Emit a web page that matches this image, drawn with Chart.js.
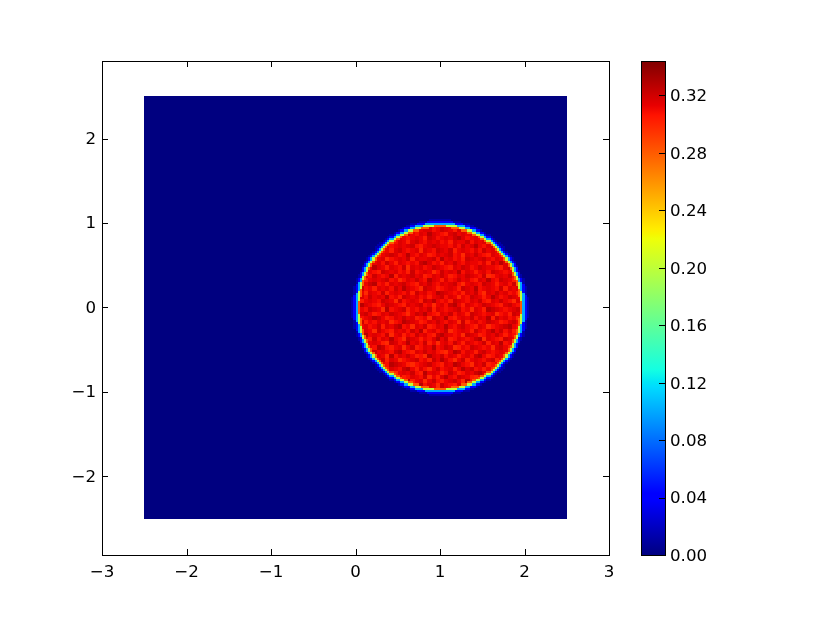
<!DOCTYPE html>
<html>
<head>
<meta charset="utf-8">
<title>Heatmap</title>
<script src="https://cdn.jsdelivr.net/npm/chart.js@4"></script>
<style>
  html, body { margin: 0; padding: 0; background: #fff; }
  #wrap { position: relative; width: 817px; height: 617px; overflow: hidden; }
  canvas { position: absolute; top: 0; }
</style>
</head>
<body>
<div id="wrap">
  <canvas id="heatmap" width="817" height="617" style="left:0"></canvas>
  <canvas id="colorbar" width="197" height="617" style="left:620px"></canvas>
</div>
<script>
const xTicks = [-3, -2, -1, 0, 1, 2, 3];
const yTicks = [-2, -1, 0, 1, 2];
const cbarTicks = [0, 0.04, 0.08, 0.12, 0.16, 0.2, 0.24, 0.28, 0.32];
const xRange = [-3, 3];
const yRange = [-2.932, 2.92];
const cbarMax = 0.344;

// image grid
const gridSize = 200;
const imageMin = -2.5;
const cellStep = 0.025;
const discCol = 140;
const discRow = 100;

// edge of the disc: half width in cells of each row, counted from the middle row outwards
const edge012 = [42,42,42,42,42,41,41,41,41,41,40,40,40,40,39,39,38,38,37,37,36,36,35,35,34,33,32,31,31,30,29,27,26,25,24,22,20,18,16,14,10,5];
const edge040 = [41,41,41,41,41,41,40,40,40,40,40,39,39,39,38,38,38,37,37,36,36,35,34,34,33,32,31,30,29,28,27,26,25,24,22,21,19,17,14,11,6,0];
const edge010 = [40,40,40,40,40,40,40,39,39,39,39,39,38,38,37,37,37,36,36,35,35,34,33,33,32,31,30,29,28,27,26,25,24,22,21,19,17,14,12,7,0,0];
const edge020 = [39,39,39,39,39,39,39,39,38,38,38,38,37,37,37,36,36,35,35,34,34,33,32,32,31,30,29,28,27,26,25,24,22,21,19,17,15,12,8,0,0,0];
const edge028 = [39,39,39,38,38,38,38,38,38,37,37,37,37,36,36,35,35,34,34,33,33,32,31,31,30,29,28,27,26,25,24,22,21,19,17,15,13,9,3,0,0,0];
const edgeInner = [38,38,38,38,38,37,37,37,37,37,36,36,36,35,35,34,34,34,33,32,32,31,30,30,29,28,27,26,25,24,22,21,19,18,15,13,10,5,0,0,0,0];
const edgeWidths = [edge012, edge040, edge010, edge020, edge028, edgeInner];
const edgeValues = [0.012, 0.04, 0.1, 0.2, 0.28];
const backgroundValue = 0;

// values of the letters used in diskBlocks
const noiseLevels = { a: 0.298, b: 0.303, c: 0.308, d: 0.312, e: 0.316, f: 0.321, g: 0.327 };
const defaultNoise = "d";

// interior in blocks of 2x2 cells, estimated by eye (texture only, not cell exact)
const blockCells = 2;
const diskBlocks = [
  "dedfcedbeddcgedeecdfedbeedcdfecdedeefd",
  "ecdedfbedecfdcedgedcbefdedecfdedcbedfe",
  "fdebdcedfedcdedbfecdedfgecdedbefdcedcd",
  "dcefeddgcedbefdcedecdbeddfcedeadecfede",
  "eadcdfecdedefcbdefeddcecfdegdcefbddecf",
  "dedgecdbefdcdeaedcfedfbdedcecfdedegdcb",
  "cfedbdefecdgdcedbcedefcdaedfdcbedcfede",
  "edcfdeacdedfbeddefcgdecdbfedefdcedbdcf",
  "befdecfdbedcdcfgecdbedfdceddcebfdgedec",
  "dcdgedbedcfaedecdfedcbedfecdfeddcbefdd",
  "fedcbfedecdbfcdedacfdedgcedbdecfedcdge",
  "decfdcdgbedefdebcedfdbcedfedcfabdedfcd",
  "cbdedefcdacedfdcgedbecdfdecbedgdcfedbe",
  "edfgcdbedefdcbedfdcedefcadedcfedbdecfd",
  "fcdbedecfdgedcafedbcdedbfedgcdedcfbede",
  "daedcfbdedcebfdecdgfedcdbedfcaedfdecdb",
  "ecfdedgcdbfedecdbdefcedadcfedbdgecdfed",
  "bdedcfedafcdedbfegdcdbfedcedfcbedfdcae",
  "gedcbdfedcbedefcdadecfgdbedcdfedcbefdc",
  "dcfedagcdefbdcedfbedcdefcdaedbgfedcdef",
  "efdbcedfedcadfegdcbedfcedbfedcdeacdbfe",
  "cdegfdbcedfdebcdafedgcbdedfcedgbfdecda",
  "fbdcedeacdgfedbcedfdcedafbdecdfedbcefd",
  "decdfbedfgcdaedfbcedgdcefdcbedacdefgdc",
  "bedafdcbedecfdgbdecdfacdedbfdcegdfcebd",
  "cgdedcfadebdcfdecbfgedcdafedbcedfdbdce",
  "edbfcedgdcafedbdcegdfbcedcdfgaedcbfedd",
  "fcdedbafecdgdecfbdadecfdbedcdfbedgcdef",
  "dedcgfcbdeadfbcedgcdfeabdcfedcdaefdbce",
  "baefdedcfgdcbedfdecbadgfcedbefdcdedgcd",
  "dcfbedagcedfdbcagedfcedbdecfgdbcedafdf",
  "egdcdfbedacdefcdbfdgecadfbdedcefbdcedc",
  "cdbefdcgfedbacdefdcbedgfdcaedfbcdegdfb",
  "fedacdbedcfgdbecadfcdebdgefcdbdafcdedc",
  "dcgefbdcadedfcbgdedacfdbcedfgecdbefadc",
  "bfdcdegafdbcedcfadbegdcfedbacdefcgdbed",
  "edbfacdfedcgbdeadfcbdefdagcbedfdcebfdg",
  "gcdedbfcadefdbgcedafdcbeedfcgbadedcfde"
];

// jet colormap breakpoints: position, r, g, b
const jetStops = [
  [0, 0, 0, 128], [0.11, 0, 0, 255], [0.125, 0, 0, 255], [0.34, 0, 219, 255],
  [0.35, 0, 230, 247], [0.375, 20, 255, 226], [0.64, 239, 255, 8], [0.65, 247, 246, 0],
  [0.66, 255, 236, 0], [0.89, 255, 19, 0], [0.91, 232, 0, 0], [1, 128, 0, 0]
];

function jetColor(value) {
  const t = Math.min(value / cbarMax, 1);
  let i = 0;
  while (i < jetStops.length - 2 && t > jetStops[i + 1][0]) i++;
  const a = jetStops[i], b = jetStops[i + 1];
  const f = (t - a[0]) / (b[0] - a[0]);
  const c = [1, 2, 3].map(k => Math.round(a[k] + (b[k] - a[k]) * f));
  return `rgb(${c[0]},${c[1]},${c[2]})`;
}

function cellValue(row, col) {
  const j = row < discRow ? discRow - 1 - row : row - discRow;
  const i = col < discCol ? discCol - 1 - col : col - discCol;
  if (j > 41) return backgroundValue;
  if (i >= edgeWidths[0][j]) return backgroundValue;
  for (let m = edgeValues.length; m > 0; m--) {
    if (i < edgeWidths[m][j]) {
      if (m < edgeValues.length) return edgeValues[m];
      const text = diskBlocks[Math.floor((row - (discRow - 38)) / blockCells)] || "";
      const ch = text[Math.floor((col - (discCol - 38)) / blockCells)] || defaultNoise;
      return noiseLevels[ch];
    }
  }
  return edgeValues[0];
}

// group the cells by value so each value is one scatter dataset
const cellsByValue = new Map();
for (let row = 0; row < gridSize; row++) {
  for (let col = 0; col < gridSize; col++) {
    const v = cellValue(row, col);
    if (!cellsByValue.has(v)) cellsByValue.set(v, []);
    cellsByValue.get(v).push({
      x: imageMin + (col + 0.5) * cellStep,
      y: -imageMin - (row + 0.5) * cellStep
    });
  }
}

const cellDatasets = [...cellsByValue.keys()].map(v => ({
  data: cellsByValue.get(v),
  pointRadius: 0,
  backgroundColor: jetColor(v),
  showLine: false
}));

// paints each cell snapped to whole pixels, otherwise antialiased seams show between cells
const cellPainter = {
  id: "cellPainter",
  beforeDatasetsDraw(chart) {
    const { ctx, scales: { x: sx, y: sy } } = chart;
    ctx.save();
    chart.data.datasets.forEach(ds => {
      ctx.fillStyle = ds.backgroundColor;
      ds.data.forEach(p => {
        const l = Math.round(sx.getPixelForValue(p.x - cellStep / 2));
        const r = Math.round(sx.getPixelForValue(p.x + cellStep / 2));
        const t = Math.round(sy.getPixelForValue(p.y + cellStep / 2));
        const b = Math.round(sy.getPixelForValue(p.y - cellStep / 2));
        ctx.fillRect(l, t, r - l, b - t);
      });
    });
    ctx.restore();
  }
};

const tickFont = { family: "'DejaVu Sans'", size: 16.67 };
const tickLen = 6;

function fixTicks(values) {
  return scale => { scale.ticks = values.map(v => ({ value: v })); };
}

const formatMinus = v => String(v).replace("-", "\u2212");

// frame and inward ticks on all four sides, matplotlib style
const frameTicks = {
  id: "frameTicks",
  afterDatasetsDraw(chart) {
    const { ctx, chartArea: a, scales } = chart;
    ctx.save();
    ctx.strokeStyle = "#000";
    ctx.lineWidth = 1;
    ctx.beginPath();
    xTicks.forEach(v => {
      const px = Math.round(scales.x.getPixelForValue(v)) + 0.5;
      ctx.moveTo(px, a.top); ctx.lineTo(px, a.top + tickLen);
      ctx.moveTo(px, a.bottom); ctx.lineTo(px, a.bottom - tickLen);
    });
    yTicks.forEach(v => {
      const py = Math.round(scales.y.getPixelForValue(v)) + 0.5;
      ctx.moveTo(a.left, py); ctx.lineTo(a.left + tickLen, py);
      ctx.moveTo(a.right, py); ctx.lineTo(a.right - tickLen, py);
    });
    ctx.stroke();
    ctx.strokeRect(a.left + 0.5, a.top + 0.5, a.right - a.left, a.bottom - a.top);
    ctx.restore();
  }
};

new Chart(document.getElementById("heatmap"), {
  type: "scatter",
  data: { datasets: cellDatasets },
  options: {
    responsive: false,
    animation: false,
    events: [],
    layout: { padding: { top: 61, right: 208, left: 0, bottom: 0 } },
    plugins: { legend: { display: false }, tooltip: { enabled: false } },
    scales: {
      x: {
        type: "linear",
        min: xRange[0],
        max: xRange[1],
        grid: { display: false, drawTicks: false },
        border: { display: false },
        afterBuildTicks: fixTicks(xTicks),
        afterFit: s => { s.height = 62; },
        ticks: { color: "#000", font: tickFont, padding: 8, maxRotation: 0, autoSkip: false, callback: formatMinus }
      },
      y: {
        type: "linear",
        min: yRange[0],
        max: yRange[1],
        grid: { display: false, drawTicks: false },
        border: { display: false },
        afterBuildTicks: fixTicks(yTicks),
        afterFit: s => { s.width = 102; },
        ticks: { color: "#000", font: tickFont, padding: 6, labelOffset: 1, autoSkip: false, callback: formatMinus }
      }
    }
  },
  plugins: [cellPainter, frameTicks]
});

const cbarFrame = {
  id: "cbarFrame",
  afterDatasetsDraw(chart) {
    const { ctx, chartArea: a, scales } = chart;
    ctx.save();
    ctx.strokeStyle = "#000";
    ctx.lineWidth = 1;
    ctx.beginPath();
    cbarTicks.forEach(v => {
      const py = Math.round(scales.y.getPixelForValue(v)) + 0.5;
      ctx.moveTo(a.right, py); ctx.lineTo(a.right - tickLen, py);
    });
    ctx.stroke();
    ctx.strokeRect(a.left + 0.5, a.top + 0.5, a.right - a.left, a.bottom - a.top);
    ctx.restore();
  }
};

function cbarGradient(context) {
  const area = context.chart.chartArea;
  if (!area) return "#000";
  const g = context.chart.ctx.createLinearGradient(0, area.bottom, 0, area.top);
  jetStops.forEach(s => g.addColorStop(s[0], `rgb(${s[1]},${s[2]},${s[3]})`));
  return g;
}

new Chart(document.getElementById("colorbar"), {
  type: "bar",
  data: {
    labels: [""],
    datasets: [{
      data: [[0, cbarMax]],
      backgroundColor: cbarGradient,
      barPercentage: 1,
      categoryPercentage: 1
    }]
  },
  options: {
    responsive: false,
    animation: false,
    events: [],
    layout: { padding: { top: 61, bottom: 62, left: 21, right: 0 } },
    plugins: { legend: { display: false }, tooltip: { enabled: false } },
    scales: {
      x: { display: false },
      y: {
        position: "right",
        min: 0,
        max: cbarMax,
        grid: { display: false, drawTicks: false },
        border: { display: false },
        afterBuildTicks: fixTicks(cbarTicks),
        afterFit: s => { s.width = 152; },
        ticks: { color: "#000", font: tickFont, padding: 5, labelOffset: 1.5, autoSkip: false, callback: v => v.toFixed(2) }
      }
    }
  },
  plugins: [cbarFrame]
});
</script>
</body>
</html>
